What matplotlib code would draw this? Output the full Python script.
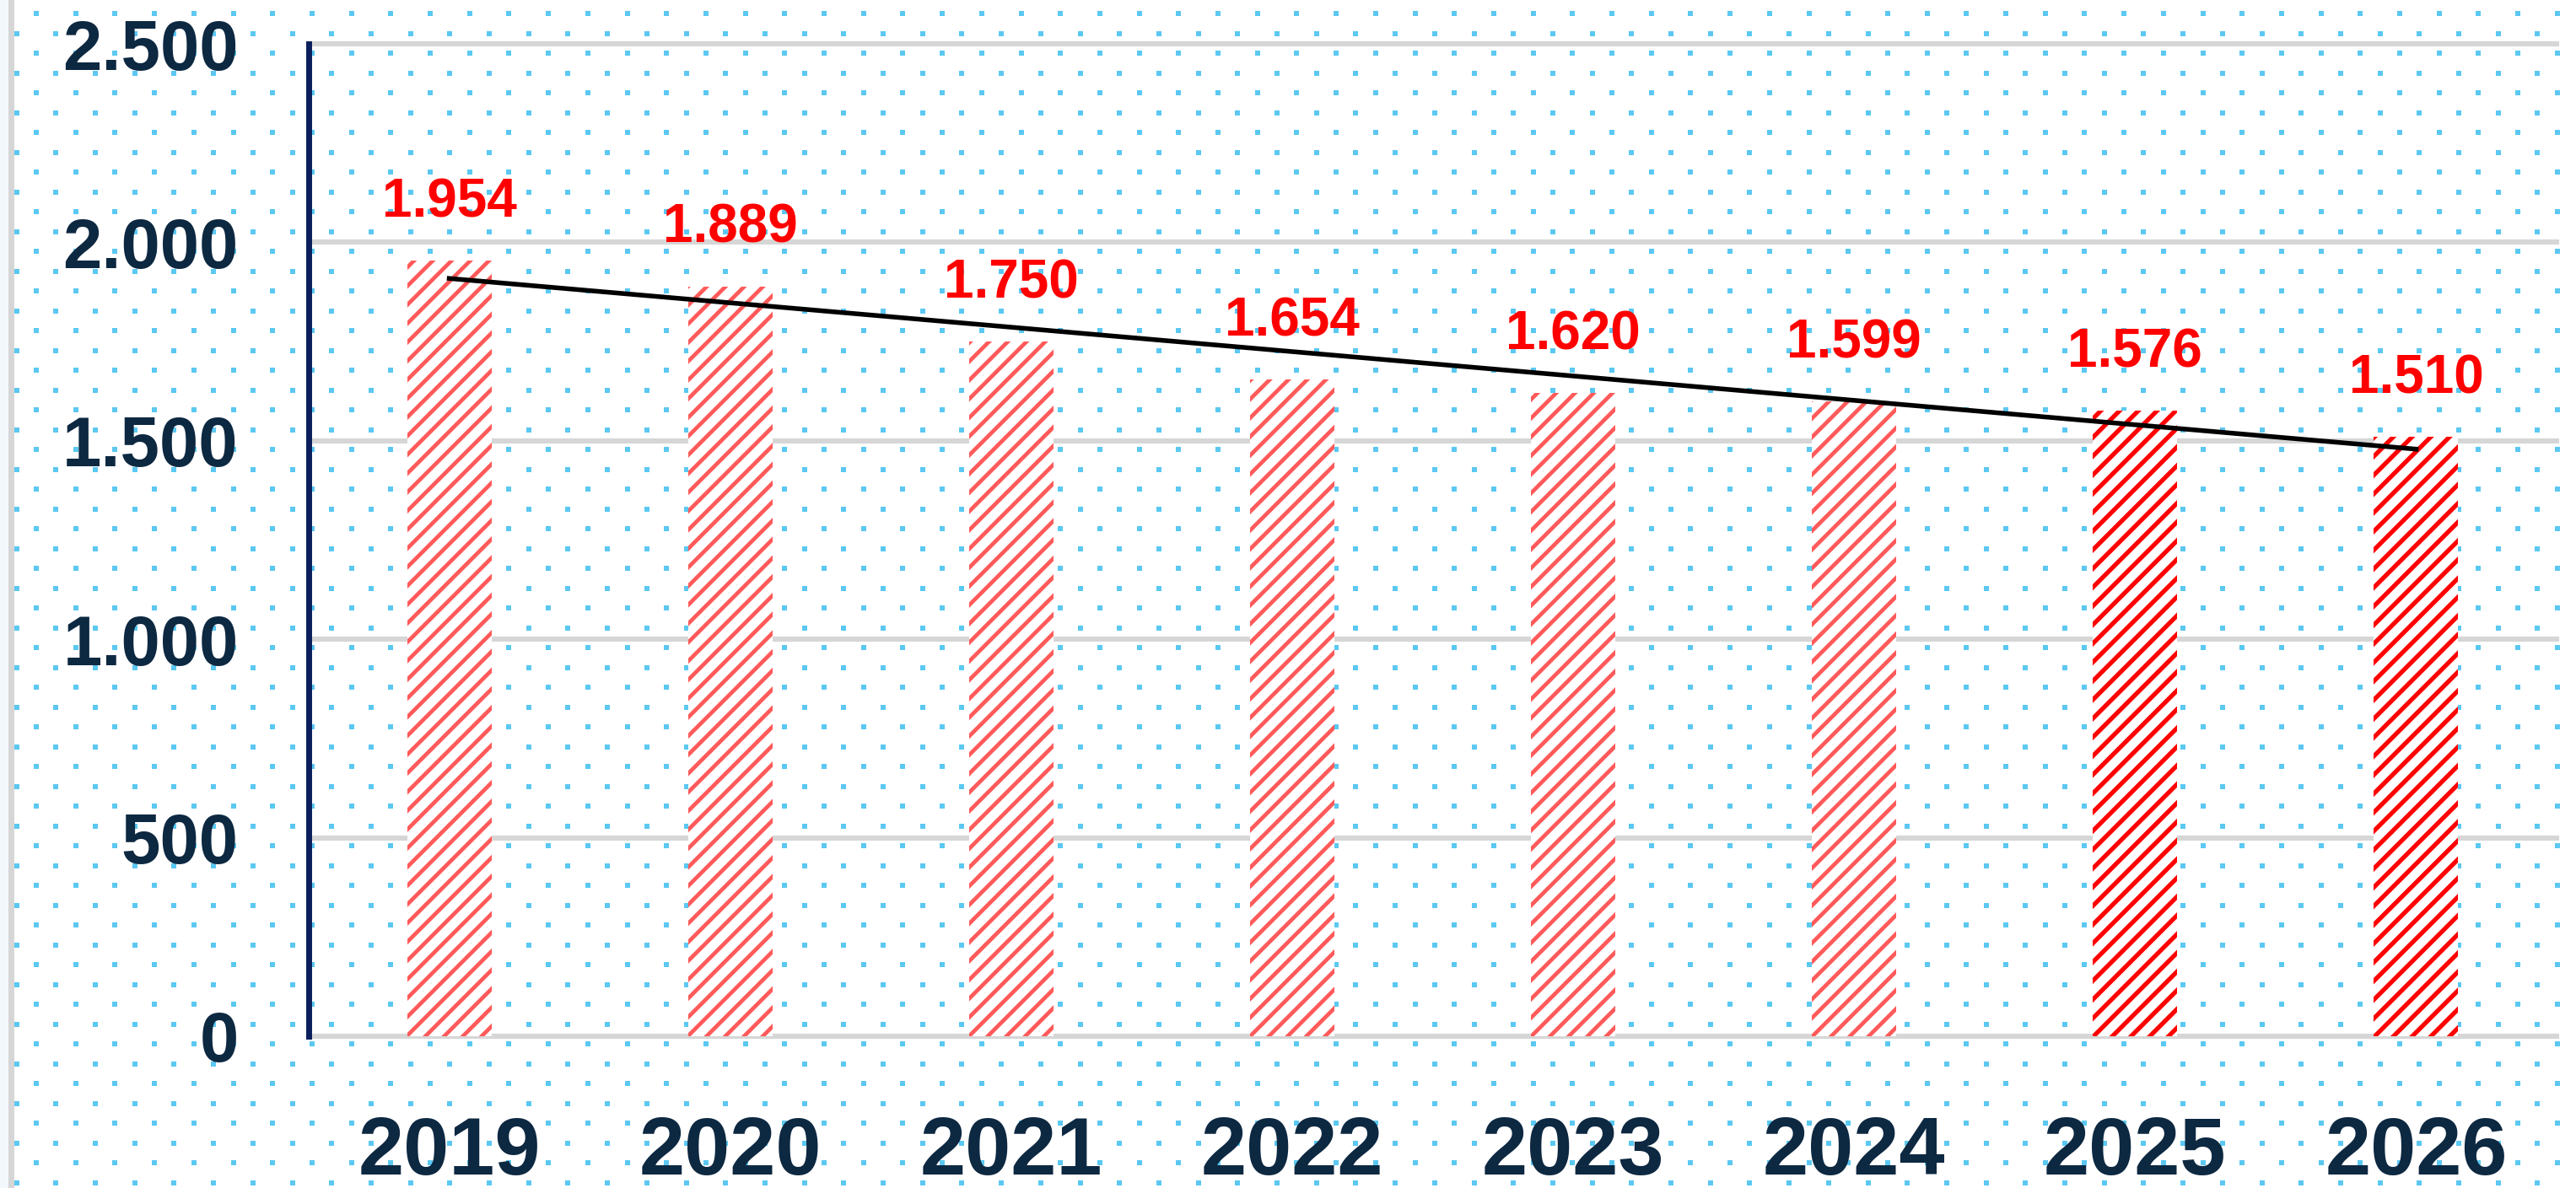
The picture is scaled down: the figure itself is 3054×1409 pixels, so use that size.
import numpy as np
from matplotlib import pyplot as plt
from matplotlib.patches import Rectangle

years = ["2019", "2020", "2021", "2022", "2023", "2024", "2025", "2026"]
values = [1954, 1889, 1750, 1654, 1620, 1599, 1576, 1510]
value_labels = ["1.954", "1.889", "1.750", "1.654", "1.620", "1.599", "1.576", "1.510"]
y_ticks = [0, 500, 1000, 1500, 2000, 2500]
y_tick_labels = ["0", "500", "1.000", "1.500", "2.000", "2.500"]

plt.rcParams["font.family"] = ["Liberation Sans", "DejaVu Sans"]

W, H = 3054, 1409
fig = plt.figure(figsize=(W / 200, H / 200), dpi=200)
fig.patch.set_facecolor("white")

# background: dotted pattern plus the thin strip on the left
bg = fig.add_axes([0, 0, 1, 1], zorder=-1)
bg.set_xlim(0, W)
bg.set_ylim(H, 0)
bg.axis("off")
bg.add_patch(Rectangle((0, 0), 10, H, color="#f3f8fd", lw=0))
bg.add_patch(Rectangle((10, 0), 7, H, color="#d6d6d6", lw=0))
step_x, step_y = 46.7, 23.5
pts = []
for r in range(int(H / step_y) + 2):
    y = 16 + r * step_y
    x0 = 43 if r % 2 == 0 else 43 - step_x / 2
    for c in range(int(W / step_x) + 2):
        x = x0 + c * step_x
        if 18 < x < W:
            pts.append((x, y))
pts = np.array(pts)
bg.scatter(pts[:, 0], pts[:, 1], s=5.5, marker="s", color="#5bc8f2", lw=0)

ax = fig.add_axes([366 / W, 1 - 1229 / H, (3031 - 366) / W, (1229 - 52) / H])
ax.patch.set_alpha(0)

x = np.arange(len(years))
bars = ax.bar(x[:6], values[:6], width=0.30, color="white", edgecolor="#ff5a5a",
              hatch="///", lw=0, zorder=2)
for b in bars:
    b.set_hatch_linewidth(1.7)
bars2 = ax.bar(x[6:], values[6:], width=0.30, color="white", edgecolor="#ff0000",
               hatch="///", lw=0, zorder=2)
for b in bars2:
    b.set_hatch_linewidth(1.9)

# linear trend line
k, c0 = np.polyfit(x, values, 1)
ax.plot([x[0], x[-1]], [c0, c0 + k * x[-1]], color="black", lw=2.0, zorder=3)

for xi, v, lab in zip(x, values, value_labels):
    ax.annotate(lab, (xi, v), xytext=(0, 14), textcoords="offset points",
                ha="center", va="bottom", color="#ff0000", fontsize=23,
                fontweight="bold")

ax.set_xlim(-0.5, len(years) - 0.5)
ax.set_ylim(0, 2500)
ax.set_yticks(y_ticks)
ax.set_yticklabels(y_tick_labels)
ax.set_xticks(x)
ax.set_xticklabels(years)
ax.tick_params(axis="y", length=0, pad=30, labelsize=30, labelcolor="#0d2841")
ax.tick_params(axis="x", length=0, pad=34, labelsize=35, labelcolor="#0d2841")
for t in ax.get_xticklabels() + ax.get_yticklabels():
    t.set_fontweight("bold")

ax.yaxis.grid(True, color="#d6d6d6", lw=2.2, zorder=0)
ax.set_axisbelow(True)
for gl in ax.get_ygridlines():
    gl.set_clip_on(False)
for s in ["top", "right", "bottom"]:
    ax.spines[s].set_visible(False)
ax.spines["left"].set_color("#0a1f5c")
ax.spines["left"].set_linewidth(2.5)

fig.savefig("out.png", dpi=200)
